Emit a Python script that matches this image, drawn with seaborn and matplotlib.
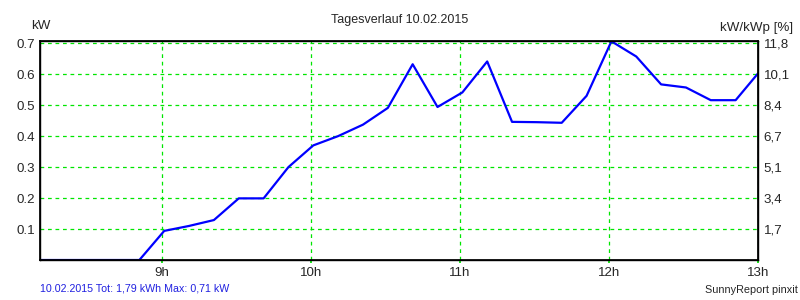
import matplotlib
matplotlib.use("Agg")
import matplotlib.pyplot as plt
import seaborn as sns
import pandas as pd

times = ["08:11", "08:21", "08:31", "08:41", "08:51",
         "09:01", "09:11", "09:21", "09:31", "09:41", "09:51",
         "10:01", "10:11", "10:21", "10:31", "10:41", "10:51",
         "11:01", "11:11", "11:21", "11:31", "11:41", "11:51",
         "12:01", "12:11", "12:21", "12:31", "12:41", "12:51", "13:01"]
power_kw = [0, 0, 0, 0, 0,
            0.094, 0.11, 0.129, 0.199, 0.199, 0.30,
            0.37, 0.40, 0.437, 0.491, 0.632, 0.494,
            0.541, 0.641, 0.446, 0.445, 0.443, 0.530,
            0.706, 0.657, 0.567, 0.557, 0.516, 0.516, 0.612]
left_ticks = [0.1, 0.2, 0.3, 0.4, 0.5, 0.6, 0.7]
left_labels = ["0.1", "0.2", "0.3", "0.4", "0.5", "0.6", "0.7"]
right_labels = ["1,7", "3,4", "5,1", "6,7", "8,4", "10,1", "11,8"]
hour_ticks = [9, 10, 11, 12, 13]
hour_labels = ["9h", "10h", "11h", "12h", "13h"]

def to_hours(t):
    h, m = t.split(":")
    return int(h) + int(m) / 60.0

df = pd.DataFrame({"hour": [to_hours(t) for t in times], "kW": power_kw})

sns.set_theme(style="ticks")
plt.rcParams["font.family"] = ["Liberation Sans", "DejaVu Sans"]

fig = plt.figure(figsize=(8, 3), dpi=100)
ax = fig.add_axes([0.05, 0.1333, 0.8975, 0.731])

sns.lineplot(data=df, x="hour", y="kW", ax=ax, color="#0000ff", linewidth=1.6)

ax.set_xlim(8 + 11 / 60, 13)
ax.set_ylim(0, 0.708)
ax.set_xticks(hour_ticks)
ax.set_xticklabels(hour_labels)
ax.set_yticks(left_ticks)
ax.set_yticklabels(left_labels)
ax.set_xlabel("")
ax.set_ylabel("")
ax.grid(True, color="#00e600", linestyle=(0, (3, 3)), linewidth=0.9)
for s in ax.spines.values():
    s.set_color("black")
    s.set_linewidth(1.0)
    s.set_visible(True)
ax.tick_params(axis="y", labelsize=9.6, length=0, pad=3.5)
ax.tick_params(axis="x", labelsize=9.6, length=2, color="#00e600", pad=3)

ax2 = ax.twinx()
ax2.set_ylim(ax.get_ylim())
ax2.set_yticks(left_ticks)
ax2.set_yticklabels(right_labels)
ax2.tick_params(axis="y", labelsize=9.6, length=0, pad=4)
for s in ax2.spines.values():
    s.set_color("black")

fig.text(0.5, 0.935, "Tagesverlauf 10.02.2015", ha="center", va="center", fontsize=9)
fig.text(0.039, 0.912, "kW", ha="left", va="center", fontsize=9.6)
fig.text(0.991, 0.905, "kW/kWp [%]", ha="right", va="center", fontsize=9.6)
fig.text(0.05, 0.037, "10.02.2015 Tot: 1,79 kWh Max: 0,71 kW", ha="left", va="center",
         fontsize=7.7, color="#2020e0")
fig.text(0.997, 0.033, "SunnyReport pinxit", ha="right", va="center", fontsize=7.8)

fig.savefig("out.png", dpi=100)
